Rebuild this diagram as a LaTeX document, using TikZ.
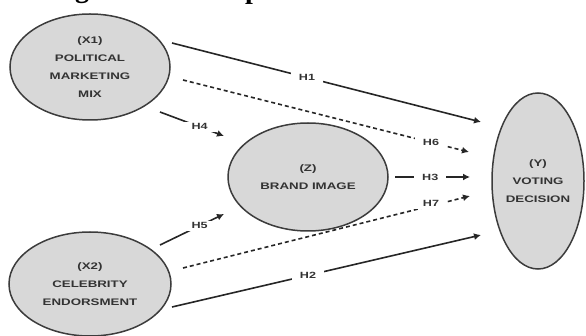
\documentclass[tikz,border=0pt]{standalone}
\usepackage{fontspec}
\usetikzlibrary{arrows.meta,shapes.geometric}
\newfontfamily\lblfont[FakeStretch=1.4]{Liberation Sans}
\newfontfamily\ttlfont{Liberation Serif}
\definecolor{ellfill}{HTML}{D8D8D8}
\definecolor{ellline}{HTML}{3C3C3C}
\definecolor{txtcol}{HTML}{333333}
\begin{document}
\begin{tikzpicture}[x=1pt,y=-1pt,
  var/.style={ellipse,draw=ellline,fill=ellfill,line width=1.5pt,inner sep=0pt,
    align=center,text=txtcol,font=\lblfont\bfseries\fontsize{9.5}{18}\selectfont},
  hyp/.style={draw=black!85,line width=1.6pt,-{Latex[length=7pt,width=7pt]}},
  hypd/.style={hyp,dash pattern=on 4pt off 3pt},
  lbl/.style={fill=white,inner xsep=8pt,inner ysep=2pt,text=txtcol,
    font=\lblfont\bfseries\fontsize{9}{10}\selectfont},
  ttl/.style={anchor=base,inner sep=0pt,font=\ttlfont\bfseries\fontsize{28}{30}\selectfont}]
\useasboundingbox (0,0) rectangle (586,336);
\begin{scope}
\clip (0,0) rectangle (586,336);
\node[ttl] (tg) at (82,-2) {g};
\node[ttl] (tp) at (253,-1) {p};
\end{scope}
% variables
\node[var,minimum width=160pt,minimum height=106pt] (x1) at (90,67) {(X1)\\POLITICAL\\MARKETING\\MIX};
\node[var,minimum width=162pt,minimum height=104pt] (x2) at (90,284) {(X2)\\CELEBRITY\\ENDORSMENT};
\node[var,minimum width=160pt,minimum height=108pt] (z) at (308,177) {(Z)\\BRAND IMAGE};
\node[var,minimum width=92pt,minimum height=176pt] (y) at (538,181) {(Y)\\VOTING\\DECISION};
% connector end points
\coordinate (h1s) at (172,43);  \coordinate (h1e) at (481,122);
\coordinate (h6s) at (183,80);  \coordinate (h6e) at (469,152);
\coordinate (h4s) at (160,112); \coordinate (h4e) at (224,136);
\coordinate (h5s) at (160,245); \coordinate (h5e) at (224,214);
\coordinate (h3s) at (395,177); \coordinate (h3e) at (470,177);
\coordinate (h7s) at (183,268); \coordinate (h7e) at (470,196);
\coordinate (h2s) at (172,307); \coordinate (h2e) at (481,235);
% hypotheses
\draw[hyp]  (h1s) -- node[lbl,pos=0.437] (l1) {H1} (h1e);
\draw[hypd] (h6s) -- node[lbl,pos=0.867] (l6) {H6} (h6e);
\draw[hyp]  (h4s) -- node[lbl,pos=0.62] (l4) {H4} (h4e);
\draw[hyp]  (h5s) -- node[lbl,pos=0.62] (l5) {H5} (h5e);
\draw[hyp]  (h3s) -- node[lbl,pos=0.47] (l3) {H3} (h3e);
\draw[hypd] (h7s) -- node[lbl,pos=0.864,yshift=2pt] (l7) {H7} (h7e);
\draw[hyp]  (h2s) -- node[lbl,pos=0.44] (l2) {H2} (h2e);
\end{tikzpicture}
\end{document}
